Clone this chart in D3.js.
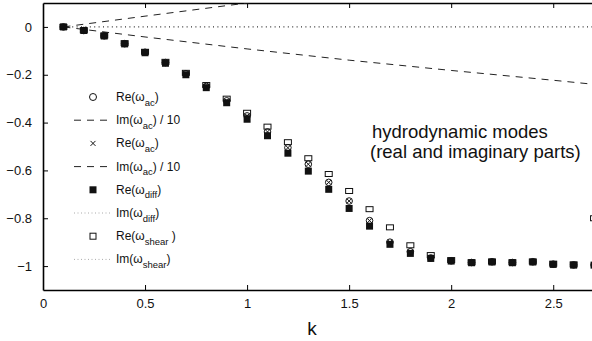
<!DOCTYPE html>
<html><head><meta charset="utf-8">
<script src="https://cdn.jsdelivr.net/npm/d3@7"></script>
<style>
html,body{margin:0;padding:0;background:#fff;}
svg{display:block;font-family:"Liberation Sans",Arial,sans-serif;}
</style></head><body>
<svg id="c" width="592" height="341"></svg>
<script>
const kValues = [0.1,0.2,0.3,0.4,0.5,0.6,0.7,0.8,0.9,1.0,1.1,1.2,1.3,1.4,1.5,1.6,1.7,1.8,1.9,2.0,2.1,2.2,2.3,2.4,2.5,2.6,2.7];
const reDiff  = [0,-0.015,-0.038,-0.071,-0.108,-0.152,-0.200,-0.254,-0.317,-0.386,-0.455,-0.528,-0.603,-0.679,-0.759,-0.833,-0.909,-0.947,-0.968,-0.979,-0.986,-0.983,-0.986,-0.983,-0.993,-0.996,-0.996];
const reAc    = [0,-0.015,-0.037,-0.070,-0.106,-0.149,-0.196,-0.249,-0.309,-0.372,-0.439,-0.505,-0.574,-0.650,-0.728,-0.810,-0.900,-0.940,-0.966,-0.978,-0.985,-0.982,-0.985,-0.982,-0.992,-0.995,-0.995];
const reShear = [0,-0.014,-0.036,-0.068,-0.104,-0.146,-0.192,-0.243,-0.300,-0.359,-0.417,-0.482,-0.549,-0.615,-0.686,-0.762,-0.838,-0.913,-0.954,-0.975,-0.984,-0.981,-0.984,-0.981,-0.990,-0.993,-0.800];
const imAcPlusK  = [0.1,0.5,1.0,1.1];
const imAcPlus   = [0,0.045,0.100,0.111];
const imAcMinusK = [0.1,0.5,1.0,1.5,2.0,2.5,2.7];
const imAcMinus  = [0,-0.042,-0.092,-0.139,-0.182,-0.223,-0.240];
const imZeroK = [0.1,2.7];
const imZero  = [0,0];
const xTicks = [0,0.5,1,1.5,2,2.5];
const yTicks = [0,-0.2,-0.4,-0.6,-0.8,-1];

const svg = d3.select("#c");
const x = d3.scaleLinear().domain([0,2.69]).range([43,592]);
const y = d3.scaleLinear().domain([-1.1,0.1]).range([290,3]);

svg.append("defs").append("clipPath").attr("id","clip")
  .append("rect").attr("x",43).attr("y",3).attr("width",560).attr("height",287);

const fmt = v => d3.format("")(v);
const gx = svg.append("g").attr("transform","translate(0,290)")
  .call(d3.axisBottom(x).tickValues(xTicks).tickFormat(fmt).tickSizeInner(-5).tickSizeOuter(0).tickPadding(9));
const gxt = svg.append("g").attr("transform","translate(0,3)")
  .call(d3.axisTop(x).tickValues(xTicks).tickFormat("").tickSizeInner(-5).tickSizeOuter(0));
const gy = svg.append("g").attr("transform","translate(43,0)")
  .call(d3.axisLeft(y).tickValues(yTicks).tickFormat(fmt).tickSizeInner(-5).tickSizeOuter(0).tickPadding(11));
[gx,gxt,gy].forEach(g=>{
  g.select(".domain").attr("stroke","#000").attr("stroke-width",1.6);
  g.selectAll(".tick line").attr("stroke","#000").attr("stroke-width",1);
  g.selectAll(".tick text").attr("font-size",13).attr("fill","#111").attr("font-family","Liberation Sans, Arial, sans-serif");
});
gx.selectAll(".tick").filter(d=>d===0).select("line").remove();
gxt.selectAll(".tick").filter(d=>d===0).select("line").remove();

svg.append("text").attr("x",312).attr("y",335).attr("text-anchor","middle")
  .attr("font-size",19).attr("fill","#111").text("k");

const plot = svg.append("g").attr("clip-path","url(#clip)");
const line = d3.line().x(d=>x(d[0])).y(d=>y(d[1]));
const zip = (a,b)=>a.map((v,i)=>[v,b[i]]);

plot.append("path").datum(zip(imZeroK,imZero)).attr("d",line).attr("fill","none")
  .attr("stroke","#333").attr("stroke-width",1.2).attr("stroke-dasharray","1,3.4");
plot.append("path").datum(zip(imAcPlusK,imAcPlus)).attr("d",line).attr("fill","none")
  .attr("stroke","#222").attr("stroke-width",1).attr("stroke-dasharray","7,6");
plot.append("path").datum(zip(imAcMinusK,imAcMinus)).attr("d",line).attr("fill","none")
  .attr("stroke","#222").attr("stroke-width",1).attr("stroke-dasharray","7,6");

const dDiff = zip(kValues,reDiff), dAc = zip(kValues,reAc), dShear = zip(kValues,reShear);
svg.append("g").selectAll("rect").data(dDiff).join("rect")
  .attr("x",d=>x(d[0])-3.5).attr("y",d=>y(d[1])-3.5).attr("width",7).attr("height",7).attr("fill","#111");
svg.append("g").selectAll("rect").data(dShear).join("rect")
  .attr("x",d=>x(d[0])-3.5).attr("y",d=>y(d[1])-2.5).attr("width",7).attr("height",5)
  .attr("fill","none").attr("stroke","#111").attr("stroke-width",1);
svg.append("g").selectAll("circle").data(dAc).join("circle")
  .attr("cx",d=>x(d[0])).attr("cy",d=>y(d[1])).attr("r",3.3)
  .attr("fill","none").attr("stroke","#111").attr("stroke-width",1);
svg.append("g").selectAll("path").data(dAc).join("path")
  .attr("d",d=>{const cx=x(d[0]),cy=y(d[1]),s=2.3;return `M${cx-s},${cy-s}L${cx+s},${cy+s}M${cx-s},${cy+s}L${cx+s},${cy-s}`;})
  .attr("stroke","#111").attr("stroke-width",1);

const legendRows = [
  {type:"circle", f:"Re", sub:"ac", tail:")"},
  {type:"dash", f:"Im", sub:"ac", tail:") / 10"},
  {type:"cross", f:"Re", sub:"ac", tail:")"},
  {type:"dash", f:"Im", sub:"ac", tail:") / 10"},
  {type:"fsquare", f:"Re", sub:"diff", tail:")"},
  {type:"dot", f:"Im", sub:"diff", tail:")"},
  {type:"osquare", f:"Re", sub:"shear", tail:" )"},
  {type:"dot", f:"Im", sub:"shear", tail:")"}
];
const lg = svg.append("g");
legendRows.forEach((r,i)=>{
  const cy = 97 + i*23.2, mx = 93;
  const g = lg.append("g");
  if(r.type==="circle") g.append("circle").attr("cx",mx).attr("cy",cy).attr("r",3.5).attr("fill","none").attr("stroke","#111");
  if(r.type==="cross") g.append("path").attr("d",`M${mx-2.5},${cy-2.5}L${mx+2.5},${cy+2.5}M${mx-2.5},${cy+2.5}L${mx+2.5},${cy-2.5}`).attr("stroke","#111");
  if(r.type==="fsquare") g.append("rect").attr("x",mx-3.5).attr("y",cy-3.5).attr("width",7).attr("height",7).attr("fill","#111");
  if(r.type==="osquare") g.append("rect").attr("x",mx-3).attr("y",cy-3).attr("width",6).attr("height",6).attr("fill","none").attr("stroke","#111");
  if(r.type==="dash") g.append("line").attr("x1",74).attr("x2",108).attr("y1",cy).attr("y2",cy).attr("stroke","#222").attr("stroke-dasharray","7,6");
  if(r.type==="dot") g.append("line").attr("x1",74).attr("x2",110).attr("y1",cy).attr("y2",cy).attr("stroke","#aaa").attr("stroke-dasharray","1,2.5");
  const t = g.append("text").attr("x",116).attr("y",cy+4).attr("font-size",12).attr("fill","#111");
  t.append("tspan").text(r.f+"(\u03c9");
  t.append("tspan").attr("dy",4.5).attr("font-size",9.5).text(r.sub);
  t.append("tspan").attr("dy",-4.5).text(r.tail);
});

svg.append("text").attr("x",372).attr("y",138).attr("font-size",18.5).attr("fill","#111").text("hydrodynamic modes");
svg.append("text").attr("x",370).attr("y",158).attr("font-size",18.5).attr("fill","#111").text("(real and imaginary parts)");
</script></body></html>
